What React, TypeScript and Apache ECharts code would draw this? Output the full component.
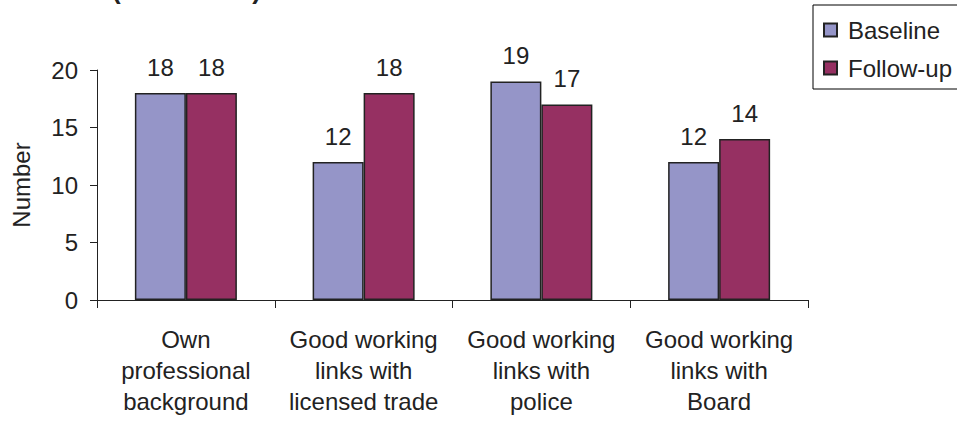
import React, { useEffect, useRef } from "react";
import * as echarts from "echarts";

const categories = [
  "Own\nprofessional\nbackground",
  "Good working\nlinks with\nlicensed trade",
  "Good working\nlinks with\npolice",
  "Good working\nlinks with\nBoard",
];
const baseline = [18, 12, 19, 12];
const followUp = [18, 18, 17, 14];
const seriesNames = ["Baseline", "Follow-up"];
const yAxisName = "Number";
const titleText = "(LSO views)";

const FONT = "'Liberation Sans', Arial, sans-serif";
const TXT = "#222";

export default function App() {
  const ref = useRef<HTMLDivElement>(null);
  useEffect(() => {
    if (!ref.current) return;
    const chart = echarts.init(ref.current, null, { renderer: "svg" });
    const barLabel = {
      show: true,
      position: "top",
      distance: 14,
      fontSize: 24,
      fontFamily: FONT,
      color: TXT,
    };
    chart.setOption({
      animation: false,
      backgroundColor: "#fff",
      textStyle: { fontFamily: FONT, color: TXT },
      graphic: [
        {
          type: "text",
          left: 112,
          top: -23,
          style: {
            text: titleText,
            font: `bold 26px ${FONT}`,
            fill: TXT,
          },
        },
      ],
      legend: {
        orient: "vertical",
        left: 813,
        top: 5,
        padding: [13, 60, 9, 10],
        itemWidth: 13,
        itemHeight: 13,
        itemGap: 14,
        icon: "rect",
        borderColor: "#000",
        borderWidth: 1,
        borderRadius: 0,
        textStyle: { fontSize: 24, fontFamily: FONT, color: TXT, padding: [0, 0, 0, 6] },
        data: seriesNames,
      },
      grid: { left: 97, right: 149, top: 70, bottom: 121 },
      xAxis: {
        type: "category",
        data: categories,
        axisLine: { lineStyle: { color: "#222", width: 1 } },
        axisTick: { show: true, length: 8, alignWithLabel: false, lineStyle: { color: "#222" } },
        axisLabel: {
          fontSize: 24,
          lineHeight: 31,
          margin: 24,
          color: TXT,
          fontFamily: FONT,
          interval: 0,
        },
      },
      yAxis: {
        type: "value",
        min: 0,
        max: 20,
        interval: 5,
        name: yAxisName,
        nameLocation: "middle",
        nameGap: 64,
        nameTextStyle: { fontSize: 24, fontFamily: FONT, color: TXT },
        splitLine: { show: false },
        axisLine: { show: true, lineStyle: { color: "#222", width: 1 } },
        axisTick: { show: true, length: 7, lineStyle: { color: "#222" } },
        axisLabel: { fontSize: 24, margin: 19, color: TXT, fontFamily: FONT },
      },
      series: [
        {
          name: seriesNames[0],
          type: "bar",
          data: baseline,
          barWidth: 51,
          barGap: "0%",
          itemStyle: { color: "#9595C8", borderColor: "#222", borderWidth: 1.5 },
          label: barLabel,
        },
        {
          name: seriesNames[1],
          type: "bar",
          data: followUp,
          barWidth: 51,
          barGap: "0%",
          itemStyle: { color: "#963062", borderColor: "#222", borderWidth: 1.5 },
          label: barLabel,
        },
      ],
    });
    return () => chart.dispose();
  }, []);
  return (
    <div
      ref={ref}
      style={{ position: "fixed", left: 0, top: 0, width: 957, height: 421, background: "#fff" }}
    />
  );
}
